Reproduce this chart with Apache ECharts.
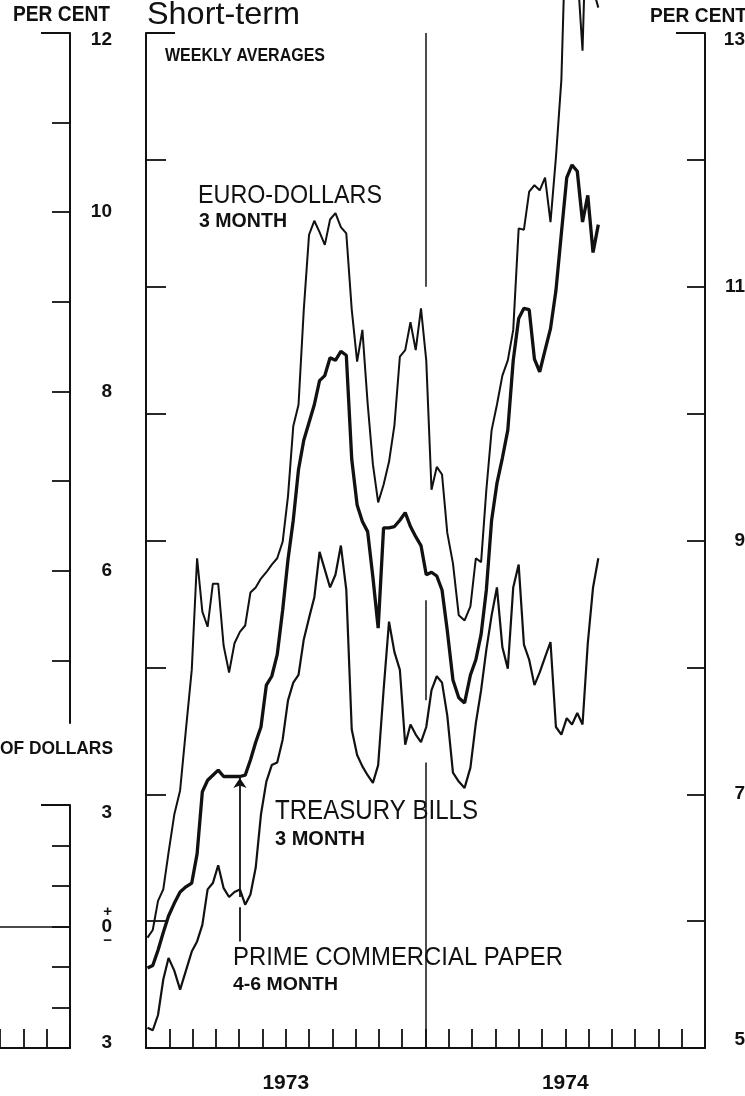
<!DOCTYPE html>
<html>
<head>
<meta charset="utf-8">
<script src="https://cdn.jsdelivr.net/npm/echarts@6/dist/echarts.min.js"></script>
<style>
html, body { margin: 0; padding: 0; background: #fff; }
#chart { width: 745px; height: 1096px; }
</style>
</head>
<body>
<div id="chart"></div>
<script>
// Short-term interest rates, weekly averages, per cent.
// One observation per week, the first for the week of 3 January 1973.
const FIRST_WEEK = Date.UTC(1973, 0, 3);
const WEEK_MS = 7 * 86400000;

const euroDollars = [
  5.87, 5.93, 6.16, 6.25, 6.54, 6.84, 7.03, 7.51, 7.98, 8.86,
  8.44, 8.32, 8.66, 8.66, 8.17, 7.96, 8.19, 8.28, 8.33, 8.59,
  8.63, 8.70, 8.75, 8.81, 8.86, 8.99, 9.35, 9.90, 10.07, 10.82,
  11.41, 11.52, 11.43, 11.33, 11.53, 11.58, 11.47, 11.42, 10.82, 10.41,
  10.66, 10.08, 9.60, 9.30, 9.44, 9.62, 9.91, 10.45, 10.50, 10.72,
  10.50, 10.83, 10.42, 9.40, 9.58, 9.52, 9.06, 8.82, 8.41, 8.37,
  8.48, 8.86, 8.83, 9.40, 9.87, 10.07, 10.30, 10.42, 10.66, 11.46,
  11.45, 11.75, 11.80, 11.76, 11.86, 11.51, 12.02, 12.63, 14.10, 14.00,
  13.50, 12.86, 14.30, 13.35, 13.20
];

const commercialPaper = [
  5.63, 5.65, 5.77, 5.91, 6.04, 6.14, 6.23, 6.27, 6.30, 6.53,
  7.02, 7.11, 7.15, 7.19, 7.14, 7.14, 7.14, 7.14, 7.15, 7.27,
  7.41, 7.53, 7.86, 7.93, 8.10, 8.45, 8.85, 9.16, 9.56, 9.79,
  9.93, 10.07, 10.26, 10.30, 10.44, 10.42, 10.49, 10.46, 9.64, 9.28,
  9.15, 9.07, 8.71, 8.31, 9.10, 9.10, 9.11, 9.16, 9.22, 9.11,
  9.03, 8.96, 8.73, 8.75, 8.72, 8.61, 8.29, 7.90, 7.76, 7.72,
  7.94, 8.06, 8.26, 8.61, 9.16, 9.45, 9.65, 9.87, 10.42, 10.75,
  10.83, 10.82, 10.43, 10.33, 10.50, 10.67, 10.97, 11.42, 11.86, 11.96,
  11.91, 11.51, 11.72, 11.27, 11.49
];

const treasuryBills = [
  5.16, 5.14, 5.26, 5.54, 5.71, 5.61, 5.46, 5.61, 5.76, 5.84,
  5.97, 6.25, 6.30, 6.44, 6.26, 6.19, 6.23, 6.25, 6.13, 6.21,
  6.42, 6.84, 7.10, 7.23, 7.25, 7.43, 7.74, 7.88, 7.94, 8.22,
  8.39, 8.55, 8.91, 8.77, 8.63, 8.73, 8.96, 8.61, 7.51, 7.31,
  7.22, 7.15, 7.09, 7.23, 7.82, 8.36, 8.12, 7.98, 7.39, 7.55,
  7.47, 7.41, 7.53, 7.82, 7.93, 7.88, 7.62, 7.17, 7.10, 7.05,
  7.21, 7.56, 7.82, 8.14, 8.41, 8.63, 8.16, 7.99, 8.63, 8.81,
  8.18, 8.06, 7.86, 7.96, 8.08, 8.20, 7.53, 7.47, 7.60, 7.55,
  7.64, 7.55, 8.19, 8.63, 8.86
];

const years = ['1973', '1974'];
const rateTicks = [5, 6, 7, 8, 9, 10, 11, 12, 13];
const rateLabels = [5, 7, 9, 11, 13];
const leftRateTicks = [5, 6, 7, 8, 9, 10, 11, 12];
const leftRateLabels = [6, 8, 10, 12];

// week the pointer from the commercial-paper caption reaches the line
const POINTER_WEEK = 17;

const INK = '#111';
const FONT = '"Liberation Sans", Arial, sans-serif';

const MAIN = { left: 146, top: 33, width: 559, height: 1015 };
const UPPER_LEFT = { left: 0, top: 33, width: 70, height: 690 };
const LOWER_LEFT = { left: 0, top: 805, width: 70, height: 243 };
const BRACKET = 29;

// position of a date on the month axis (0 = 1 Jan 1973)
function monthPos(ms) {
  const d = new Date(ms);
  const y = d.getUTCFullYear(), m = d.getUTCMonth(), day = d.getUTCDate();
  const dim = new Date(Date.UTC(y, m + 1, 0)).getUTCDate();
  return (y - 1973) * 12 + m + (day - 1) / dim;
}
function weekly(values) {
  return values.map((v, i) => [monthPos(FIRST_WEEK + i * WEEK_MS), v]);
}

const numberLabel = {
  color: INK, fontFamily: FONT, fontWeight: 'bold', fontSize: 19,
  rich: {
    top: { fontFamily: FONT, fontWeight: 'bold', fontSize: 19, color: INK, padding: [14, 0, 0, 0] },
    bot: { fontFamily: FONT, fontWeight: 'bold', fontSize: 19, color: INK, padding: [0, 0, 16, 0] },
    botS: { fontFamily: FONT, fontWeight: 'bold', fontSize: 19, color: INK, padding: [0, 0, 10, 0] },
    topS: { fontFamily: FONT, fontWeight: 'bold', fontSize: 19, color: INK, padding: [16, 0, 0, 0] },
    sign: { fontFamily: FONT, fontWeight: 'bold', fontSize: 15, color: INK, lineHeight: 13 },
    zero: { fontFamily: FONT, fontWeight: 'bold', fontSize: 19, color: INK, lineHeight: 16 }
  }
};

const axisLine = { show: true, onZero: false, lineStyle: { color: INK, width: 2 } };
const tickLine = { color: INK, width: 1.8 };

// caption text: [text, left, right, cap top, cap bottom, weight]
const captions = [
  ['PER CENT', 13, 110, 7.5, 23, 'bold'],
  ['Short-term', 147, 300, 4.5, 26.5, 'normal'],
  ['WEEKLY AVERAGES', 165, 325, 50, 62.7, 'bold'],
  ['EURO-DOLLARS', 198, 382, 187, 205, 'normal'],
  ['3 MONTH', 199, 287, 215, 229, 'bold'],
  ['TREASURY BILLS', 275, 478, 802, 821.5, 'normal'],
  ['3 MONTH', 275, 365, 833, 847, 'bold'],
  ['PRIME COMMERCIAL PAPER', 233, 563, 948, 967, 'normal'],
  ['4-6 MONTH', 233, 338, 978, 991, 'bold'],
  ['OF DOLLARS', 0, 113, 742, 755, 'bold'],
  ['PER CENT', 650, 747, 8.3, 23.3, 'bold']
];

const measureCtx = document.createElement('canvas').getContext('2d');
function captionElement(c) {
  const [text, x0, x1, capTop, capBottom, weight] = c;
  const size = (capBottom - capTop) / 0.716;
  const font = weight + ' ' + size.toFixed(1) + 'px ' + FONT;
  measureCtx.font = font;
  const natural = measureCtx.measureText(text).width;
  return {
    type: 'text', silent: true, z: 100,
    x: x0, y: (capTop + capBottom) / 2,
    scaleX: (x1 - x0) / natural,
    style: { text: text, font: font, fill: INK, align: 'left', verticalAlign: 'middle' }
  };
}

function bracket(x1, x2, y) {
  return { type: 'line', silent: true, z: 100,
    shape: { x1: x1, y1: y, x2: x2, y2: y },
    style: { stroke: INK, lineWidth: 2 } };
}

function gridOf(box) {
  return Object.assign({ containLabel: false, outerBoundsMode: 'none' }, box);
}

const pointerX = monthPos(FIRST_WEEK + POINTER_WEEK * WEEK_MS);
const pointerTip = commercialPaper[POINTER_WEEK];

const chart = echarts.init(document.getElementById('chart'), null, { renderer: 'canvas' });
chart.setOption({
  animation: false,
  backgroundColor: '#fff',
  grid: [gridOf(MAIN), gridOf(UPPER_LEFT), gridOf(LOWER_LEFT)],
  xAxis: [
    { gridIndex: 0, type: 'value', min: 0, max: 24, interval: 1, position: 'bottom',
      axisLine: axisLine, axisTick: { show: true, inside: true, length: 19, lineStyle: tickLine },
      axisLabel: { show: false }, splitLine: { show: false } },
    { gridIndex: 0, type: 'category', data: years, position: 'bottom', boundaryGap: true,
      axisLine: { show: false, onZero: false }, axisTick: { show: false },
      axisLabel: { margin: 25, color: INK, fontFamily: FONT, fontWeight: 'bold', fontSize: 21 },
      splitLine: { show: false } },
    { gridIndex: 1, type: 'value', show: false, min: 0, max: 3 },
    { gridIndex: 2, type: 'value', min: 0, max: 3, interval: 1, position: 'bottom',
      axisLine: axisLine, axisTick: { show: true, inside: true, length: 19, lineStyle: tickLine },
      axisLabel: { show: false }, splitLine: { show: false } },
    { gridIndex: 2, type: 'value', min: 0, max: 3, position: 'bottom',
      axisLine: { show: true, onZero: true, lineStyle: { color: INK, width: 1.6 } },
      axisTick: { show: false }, axisLabel: { show: false }, splitLine: { show: false } }
  ],
  yAxis: [
    { gridIndex: 0, type: 'value', position: 'left', min: 5, max: 13, interval: 1,
      axisLine: axisLine, axisTick: { show: true, inside: true, length: 20, lineStyle: tickLine },
      axisLabel: { show: false }, splitLine: { show: false } },
    { gridIndex: 0, type: 'value', position: 'right', min: 5, max: 13,
      axisLine: axisLine,
      axisTick: { show: true, inside: true, length: 18, lineStyle: tickLine, customValues: rateTicks },
      axisLabel: Object.assign({}, numberLabel, {
        customValues: rateLabels, margin: 40, align: 'right',
        formatter: v => v === 13 ? '{top|13}' : v === 5 ? '{bot|5}' : (rateLabels.includes(v) ? String(v) : '')
      }),
      splitLine: { show: false } },
    { gridIndex: 1, type: 'value', position: 'right', min: 4.3, max: 12,
      axisLine: axisLine,
      axisTick: { show: true, inside: true, length: 18, lineStyle: tickLine, customValues: leftRateTicks },
      axisLabel: Object.assign({}, numberLabel, {
        customValues: leftRateLabels, margin: 42, align: 'right',
        formatter: v => v === 12 ? '{top|12}' : (leftRateLabels.includes(v) ? String(v) : '')
      }),
      splitLine: { show: false } },
    { gridIndex: 2, type: 'value', position: 'right', min: -3, max: 3, interval: 1,
      axisLine: axisLine,
      axisTick: { show: true, inside: true, length: 18, lineStyle: tickLine },
      axisLabel: Object.assign({}, numberLabel, {
        margin: 42, align: 'right',
        formatter: v => v === 3 ? '{topS|3}' : v === -3 ? '{botS|3}' : v === 0 ? '{sign|+}\n{zero|0}\n{sign|\u2212}' : ''
      }),
      splitLine: { show: false } }
  ],
  series: [
    { name: 'Euro-dollars, 3 month', type: 'line', xAxisIndex: 0, yAxisIndex: 0,
      data: weekly(euroDollars), showSymbol: false, clip: false, z: 5,
      lineStyle: { color: INK, width: 2 },
      markLine: {
        silent: true, symbol: ['none', 'none'], label: { show: false }, animation: false,
        lineStyle: { color: INK, width: 1.5, type: 'solid' },
        emphasis: { disabled: true },
        data: [
          [{ coord: [12, 13] }, { coord: [12, 11] }],
          [{ coord: [12, 8.53] }, { coord: [12, 7.74] }],
          [{ coord: [12, 7.25] }, { coord: [12, 5] }]
        ]
      } },
    { name: 'Prime commercial paper, 4-6 month', type: 'line', xAxisIndex: 0, yAxisIndex: 0,
      data: weekly(commercialPaper), showSymbol: false, clip: false, z: 6,
      lineStyle: { color: INK, width: 3.3 },
      markLine: {
        silent: true, label: { show: false }, animation: false,
        lineStyle: { color: INK, width: 1.8, type: 'solid' },
        emphasis: { disabled: true },
        data: [
          [{ coord: [pointerX, 5.84], symbol: 'none' }, { coord: [pointerX, 6.11], symbol: 'none' }],
          [{ coord: [pointerX, 6.19], symbol: 'none' },
           { coord: [pointerX, pointerTip - 0.012], symbol: 'arrow', symbolSize: 10 }]
        ]
      } },
    { name: 'Treasury bills, 3 month', type: 'line', xAxisIndex: 0, yAxisIndex: 0,
      data: weekly(treasuryBills), showSymbol: false, clip: false, z: 5,
      lineStyle: { color: INK, width: 2.2 } }
  ],
  graphic: [
    bracket(MAIN.left, MAIN.left + BRACKET, MAIN.top),
    bracket(MAIN.left + MAIN.width - BRACKET, MAIN.left + MAIN.width, MAIN.top),
    bracket(UPPER_LEFT.left + UPPER_LEFT.width - BRACKET, UPPER_LEFT.left + UPPER_LEFT.width, UPPER_LEFT.top),
    bracket(LOWER_LEFT.left + LOWER_LEFT.width - BRACKET, LOWER_LEFT.left + LOWER_LEFT.width, LOWER_LEFT.top)
  ].concat(captions.map(captionElement))
});
</script>
</body>
</html>
